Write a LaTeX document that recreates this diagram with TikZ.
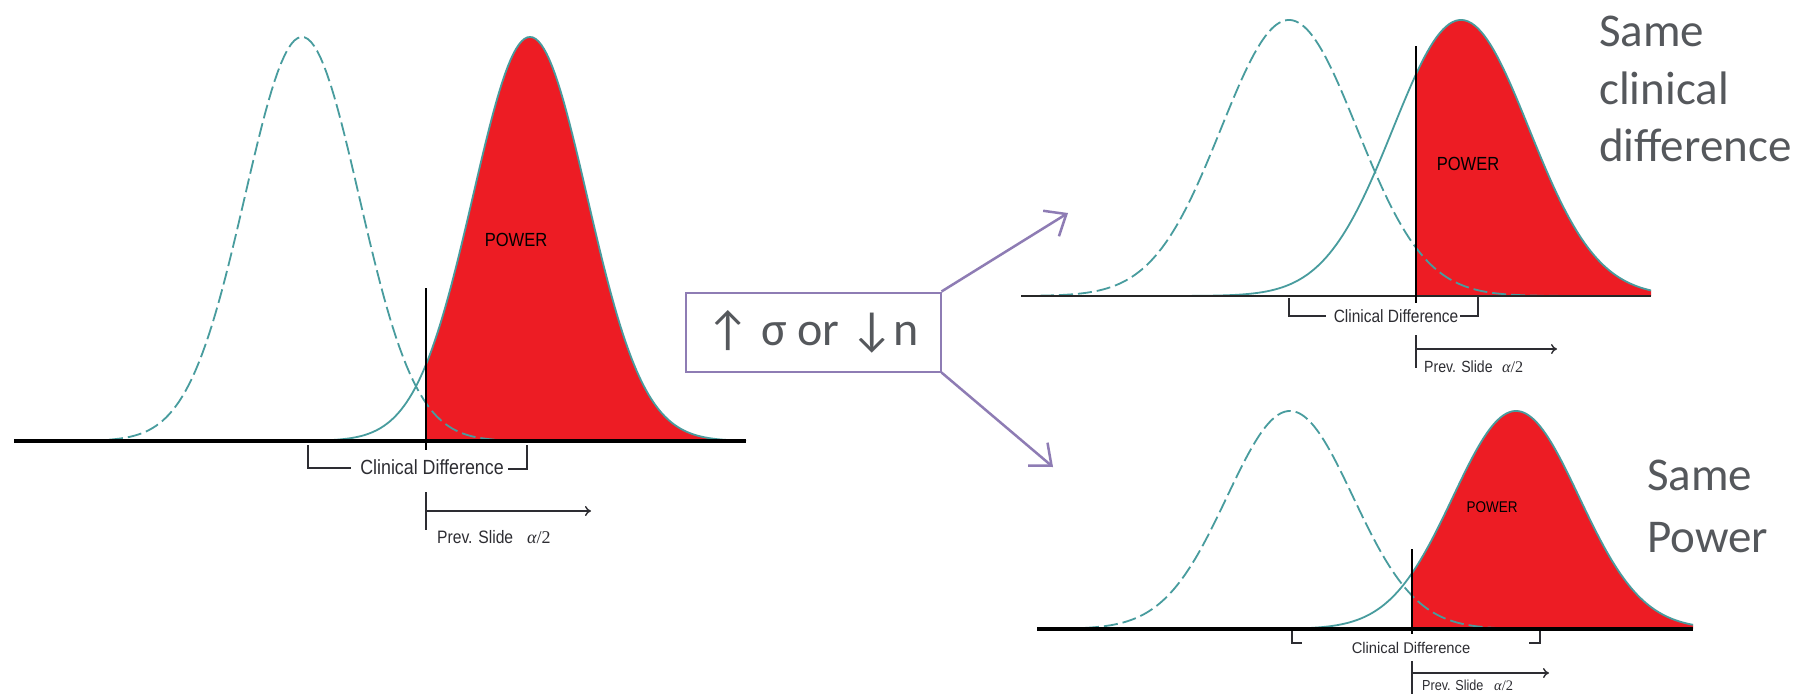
\documentclass[tikz,border=0pt]{standalone}
\usepackage{fontspec}
\usepackage{graphicx}
\usetikzlibrary{arrows.meta}
\newfontfamily\arialf{Liberation Sans}
\newfontfamily\timesf{Liberation Serif}
\newfontfamily\calf{Carlito}
\definecolor{tealc}{RGB}{72,156,158}
\definecolor{redf}{RGB}{237,28,36}
\definecolor{purp}{RGB}{142,124,180}
\definecolor{greyt}{RGB}{85,88,92}
\definecolor{labc}{RGB}{45,45,50}
\tikzset{
  declare function={gs(\x,\m,\s,\b,\h)=\b-\h*exp(-0.5*((\x-\m)/\s)*((\x-\m)/\s));},
  dashcurve/.style={draw=tealc,line width=1.8pt,dash pattern=on 14pt off 5pt},
  solidcurve/.style={draw=tealc,line width=1.8pt},
  axisline/.style={draw=black,line width=3.5pt},
  cutline/.style={draw=black,line width=1.8pt},
  bracketline/.style={draw=labc,line width=1.6pt},
  prevarrow/.style={draw=labc,line width=1.4pt,-{To[length=6pt,width=10pt]}},
  prevtick/.style={draw=labc,line width=1.4pt},
  bigarrow/.style={draw=purp,line width=2.5pt,-{Straight Barb[length=18pt,width=30pt,line width=2.5pt]}},
  sidetext/.style={text=greyt,anchor=base west,inner sep=0pt,font=\calf\fontsize{47}{56}\selectfont},
  lab/.style={text=labc,inner sep=0pt},
}
\begin{document}
\begin{tikzpicture}[x=1pt,y=-1pt]
\useasboundingbox (0,0) rectangle (1806,694);
\fill[white] (0,0) rectangle (1806,694);

% ---------------- left panel ----------------
\fill[redf] (426,441) -- plot[domain=426:746,samples=120] (\x,{gs(\x,530,57,441,404)}) -- (746,441) -- cycle;
\draw[solidcurve] plot[domain=300:746,samples=160] (\x,{gs(\x,530,57,441,404)});
\draw[dashcurve] plot[domain=90:746,samples=200] (\x,{gs(\x,302,57,441,404)});
\draw[axisline] (14,441) -- (746,441);
\draw[cutline] (426,288) -- (426,450);
\node[lab,font=\arialf\fontsize{19}{19}\selectfont,text=black] (pw1) at (516,240) {\scalebox{0.87}[1]{POWER}};
\node[lab,font=\arialf\fontsize{20.5}{21}\selectfont] (cd1) at (432,467) {\scalebox{0.87}[1]{Clinical Difference}};
\draw[bracketline] (308,445) -- (308,468) -- (351,468);
\draw[bracketline] (508,469) -- (527,469) -- (527,445);
\coordinate (pa1s) at (426,511);
\coordinate (pa1e) at (591,511);
\draw[prevtick] (426,492) -- (426,530);
\draw[prevarrow] (pa1s) -- (pa1e);
\node[lab,anchor=base west,font=\arialf\fontsize{18}{18}\selectfont] (ps1) at (437,543) {\scalebox{0.87}[1]{Prev. Slide}};
\node[lab,anchor=base west,font=\timesf\fontsize{18}{18}\selectfont] (al1) at (527,543) {{\itshape α}/2};

% ---------------- middle box ----------------
\node[draw=purp,line width=2pt,minimum width=255pt,minimum height=79pt,inner sep=0pt,
      text=greyt,font=\calf\fontsize{48}{50}\selectfont] (box) at (813,332) {↑ σ or ↓n};
\coordinate (tipup) at (1068,213);
\coordinate (tipdn) at (1053,467);
\draw[bigarrow] (box.north east) -- (tipup);
\draw[bigarrow] (box.south east) -- (tipdn);

% ---------------- top right panel ----------------
\fill[redf] (1416,296) -- plot[domain=1416:1651,samples=120] (\x,{gs(\x,1461,68,296,276)}) -- (1651,296) -- cycle;
\draw[solidcurve] plot[domain=1150:1651,samples=160] (\x,{gs(\x,1461,68,296,276)});
\draw[dashcurve] plot[domain=1040:1600,samples=200] (\x,{gs(\x,1289,68,296,276)});
\draw[draw=black!85,line width=2.2pt] (1021,296) -- (1651,296);
\draw[cutline] (1416,46) -- (1416,303);
\node[lab,font=\arialf\fontsize{19}{19}\selectfont,text=black] (pw2) at (1468,164) {\scalebox{0.87}[1]{POWER}};
\node[lab,font=\arialf\fontsize{17.8}{18}\selectfont] (cd2) at (1396,316) {\scalebox{0.87}[1]{Clinical Difference}};
\draw[bracketline] (1289,298) -- (1289,316) -- (1326,316);
\draw[bracketline] (1460,316) -- (1478,316) -- (1478,296);
\coordinate (pa2s) at (1416,349);
\coordinate (pa2e) at (1557,349);
\draw[prevtick] (1416,335) -- (1416,368);
\draw[prevarrow] (pa2s) -- (pa2e);
\node[lab,anchor=base west,font=\arialf\fontsize{16.2}{16}\selectfont] (ps2) at (1424,372) {\scalebox{0.87}[1]{Prev. Slide}};
\node[lab,anchor=base west,font=\timesf\fontsize{16.2}{16}\selectfont] (al2) at (1502,372) {{\itshape α}/2};
\node[sidetext] (s1) at (1599,46) {Same};
\node[sidetext] (s2) at (1599,104) {clinical};
\node[sidetext] (s3) at (1599,161) {difference};

% ---------------- bottom right panel ----------------
\fill[redf] (1412,629) -- plot[domain=1412:1693,samples=120] (\x,{gs(\x,1516,63,629,218)}) -- (1693,629) -- cycle;
\draw[solidcurve] plot[domain=1250:1693,samples=160] (\x,{gs(\x,1516,63,629,218)});
\draw[dashcurve] plot[domain=1085:1565,samples=200] (\x,{gs(\x,1290,63,629,218)});
\draw[axisline] (1037,629) -- (1693,629);
\draw[cutline] (1412,549) -- (1412,634);
\node[lab,font=\arialf\fontsize{15.5}{16}\selectfont,text=black] (pw3) at (1492,507) {\scalebox{0.87}[1]{POWER}};
\node[lab,font=\arialf\fontsize{15.5}{16}\selectfont] (cd3) at (1411,648) {\scalebox{0.95}[1]{Clinical Difference}};
\draw[bracketline] (1292,631) -- (1292,643) -- (1302,643);
\draw[bracketline] (1529,643) -- (1540,643) -- (1540,631);
\coordinate (pa3s) at (1412,673);
\coordinate (pa3e) at (1549,673);
\draw[prevtick] (1412,661) -- (1412,694);
\draw[prevarrow] (pa3s) -- (pa3e);
\node[lab,anchor=base west,font=\arialf\fontsize{14.5}{15}\selectfont] (ps3) at (1422,690) {\scalebox{0.87}[1]{Prev. Slide}};
\node[lab,anchor=base west,font=\timesf\fontsize{14.5}{15}\selectfont] (al3) at (1494,690) {{\itshape α}/2};
\node[sidetext] (s4) at (1647,490) {Same};
\node[sidetext] (s5) at (1647,552) {Power};
\end{tikzpicture}
\end{document}
